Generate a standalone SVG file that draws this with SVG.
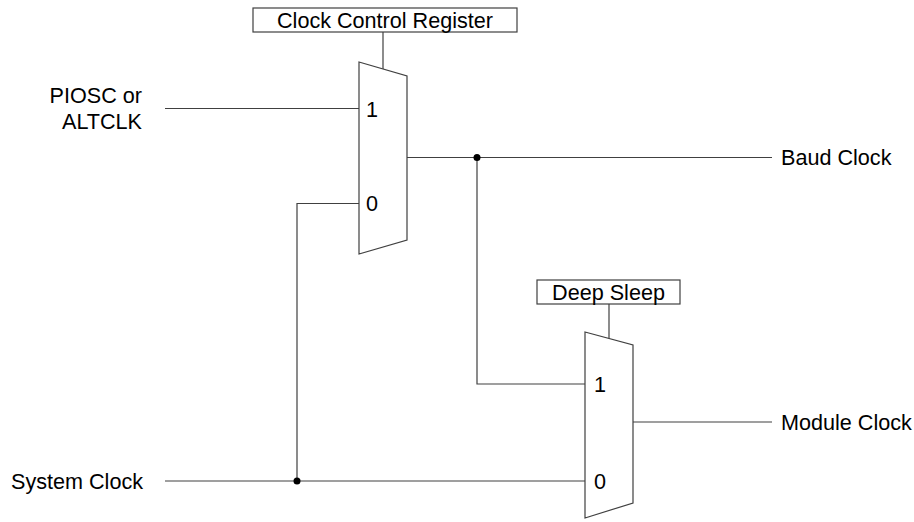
<svg xmlns="http://www.w3.org/2000/svg" width="914" height="522" viewBox="0 0 914 522">
<style>
.w{fill:none;stroke:#404040;stroke-width:1.2}
.b{fill:#fff;stroke:#404040;stroke-width:1.2}
.t{font-family:"Liberation Sans",Arial,sans-serif;font-size:21.6px;fill:#000}
.m{text-anchor:middle}
.e{text-anchor:end}
</style>
<rect width="914" height="522" fill="#fff"/>
<g id="connectors">
<path class="w" d="M165,108.5H359"/>
<path class="w" d="M297,481V203.5H359"/>
<path class="w" d="M383,32V69"/>
<path class="w" d="M407,157.5H772"/>
<path class="w" d="M477,157.5V384H585"/>
<path class="w" d="M165,481H585"/>
<path class="w" d="M609,304V338.5"/>
<path class="w" d="M633,422H772"/>
<circle cx="477" cy="157.5" r="3.5" fill="#000"/>
<circle cx="297" cy="481" r="3.5" fill="#000"/>
</g>
<g id="clock-control-register">
<rect class="b" x="253" y="8" width="264" height="24"/>
<text class="t m" x="385" y="27.5">Clock Control Register</text>
</g>
<g id="mux-top">
<path class="b" d="M359,62L407,76V240L359,254Z"/>
<text class="t" x="366" y="116.5">1</text>
<text class="t" x="366" y="211">0</text>
</g>
<g id="deep-sleep">
<rect class="b" x="537" y="280" width="143" height="24"/>
<text class="t m" x="608.5" y="299.5">Deep Sleep</text>
</g>
<g id="mux-bottom">
<path class="b" d="M585,332L633,345V503L585,518Z"/>
<text class="t" x="594" y="391.5">1</text>
<text class="t" x="594" y="489">0</text>
</g>
<g id="piosc-altclk">
<text class="t e" x="142" y="103">PIOSC or</text>
<text class="t e" x="142" y="129">ALTCLK</text>
</g>
<g id="system-clock">
<text class="t" x="11" y="489">System Clock</text>
</g>
<g id="baud-clock">
<text class="t" x="781" y="165">Baud Clock</text>
</g>
<g id="module-clock">
<text class="t" x="781" y="430">Module Clock</text>
</g>
</svg>
